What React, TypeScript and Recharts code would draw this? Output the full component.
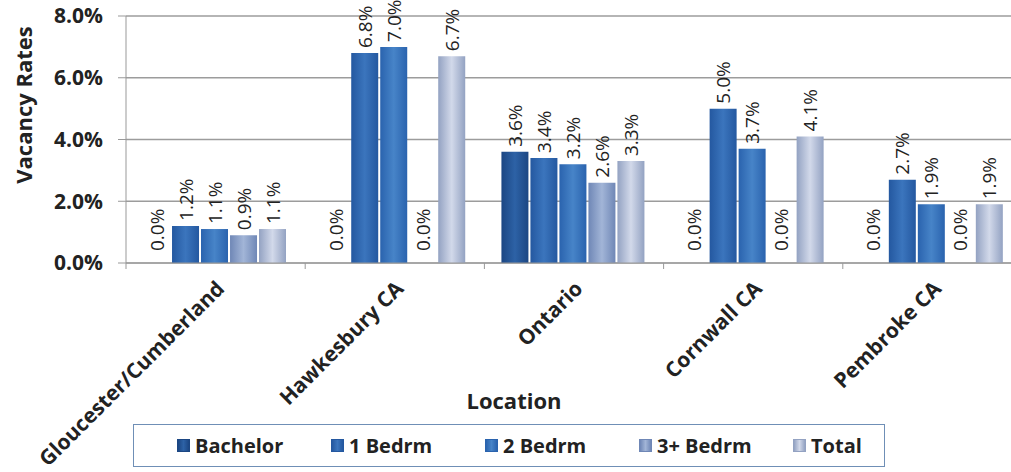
import { BarChart, Bar, XAxis, YAxis, CartesianGrid, Legend, LabelList } from 'recharts'

const locations = ['Gloucester/Cumberland', 'Hawkesbury CA', 'Ontario', 'Cornwall CA', 'Pembroke CA']
const bachelor = [0.0, 0.0, 3.6, 0.0, 0.0]
const bedrm1 = [1.2, 6.8, 3.4, 5.0, 2.7]
const bedrm2 = [1.1, 7.0, 3.2, 3.7, 1.9]
const bedrm3 = [0.9, 0.0, 2.6, 0.0, 0.0]
const total = [1.1, 6.7, 3.3, 4.1, 1.9]
const yTicks = [0, 2, 4, 6, 8]

const series = [
  { key: 'bachelor', name: 'Bachelor', edge: '#1b4683', mid: '#2d62a6' },
  { key: 'bedrm1', name: '1 Bedrm', edge: '#2458a0', mid: '#3b75bd' },
  { key: 'bedrm2', name: '2 Bedrm', edge: '#2a63ae', mid: '#4784c8' },
  { key: 'bedrm3', name: '3+ Bedrm', edge: '#6f87b6', mid: '#a2b5d7' },
  { key: 'total', name: 'Total', edge: '#93a2c2', mid: '#d2d9ea' },
]

const data = locations.map((loc, i) => ({
  location: loc,
  bachelor: bachelor[i],
  bedrm1: bedrm1[i],
  bedrm2: bedrm2[i],
  bedrm3: bedrm3[i],
  total: total[i],
}))

const FONT = '"Open Sans", "DejaVu Sans", sans-serif'
const BAND = 179.2

function ValueLabel(props: any) {
  const { x, y, width, value } = props
  const v = Number(value)
  const cx = x + width / 2
  const cy = y - (v === 0 ? 12 : 5)
  return (
    <text
      x={cx}
      y={cy}
      transform={`rotate(-90, ${cx}, ${cy})`}
      textAnchor="start"
      dominantBaseline="central"
      fontFamily={FONT}
      fontSize={19}
      fill="#222"
    >
      {v.toFixed(1)}%
    </text>
  )
}

function LocationTick(props: any) {
  const { x, y, payload, index } = props
  const left = x - BAND / 2
  const tx = x + 10
  const ty = y + 19
  return (
    <g>
      <line x1={left} y1={y - 8} x2={left} y2={y - 2} stroke="#999" />
      {index === locations.length - 1 && <line x1={x + BAND / 2} y1={y - 8} x2={x + BAND / 2} y2={y - 2} stroke="#999" />}
      <text
        x={tx}
        y={ty}
        transform={`rotate(-45, ${tx}, ${ty})`}
        textAnchor="end"
        fontFamily={FONT}
        fontWeight="bold"
        fontSize={21}
        fill="#222"
      >
        {payload.value}
      </text>
    </g>
  )
}

function LegendBox() {
  return (
    <div
      style={{
        boxSizing: 'border-box',
        width: 752,
        height: 43,
        border: '1px solid #6f8fb6',
        background: '#fff',
        display: 'flex',
        alignItems: 'center',
        paddingLeft: 43,
        fontFamily: FONT,
        fontWeight: 'bold',
        fontSize: 20,
        color: '#222',
      }}
    >
      {series.map((s) => (
        <div key={s.key} style={{ display: 'flex', alignItems: 'center', width: s.key === 'total' ? 80 : 154 }}>
          <div
            style={{
              width: 13,
              height: 13,
              marginRight: 5,
              boxSizing: 'border-box',
              border: `1px solid ${s.edge}`,
              background: `linear-gradient(90deg, ${s.edge}, ${s.mid}, ${s.edge})`,
            }}
          />
          <span>{s.name}</span>
        </div>
      ))}
    </div>
  )
}

export default function App() {
  return (
    <div style={{ position: 'fixed', left: 0, top: 0, width: 1011, height: 472, overflow: 'hidden', background: '#fff' }}>
      <BarChart
        width={1024}
        height={472}
        data={data}
        margin={{ top: 16, right: 2, left: 0, bottom: 0 }}
        barCategoryGap="9.5%"
        barGap={2}
      >
        <defs>
          {series.map((s) => (
            <linearGradient key={s.key} id={`grad-${s.key}`} x1="0" y1="0" x2="1" y2="0">
              <stop offset="0%" stopColor={s.edge} />
              <stop offset="50%" stopColor={s.mid} />
              <stop offset="100%" stopColor={s.edge} />
            </linearGradient>
          ))}
        </defs>
        <CartesianGrid vertical={false} stroke="#9c9c9c" strokeWidth={1.5} />
        <XAxis
          dataKey="location"
          interval={0}
          height={209}
          stroke="#999"
          tickLine={false}
          tick={<LocationTick />}
          label={{
            content: () => (
              <text x={514} y={409} textAnchor="middle" fontFamily={FONT} fontWeight="bold" fontSize={22} fill="#222">
                Location
              </text>
            ),
          }}
        />
        <YAxis
          width={126}
          domain={[0, 8]}
          ticks={yTicks}
          stroke="#999"
          tickSize={8}
          tickMargin={15}
          tickFormatter={(v: number) => `${v.toFixed(1)}%`}
          tick={{ fontFamily: FONT, fontWeight: 'bold', fontSize: 21, fill: '#222' }}
          label={{
            content: () => (
              <text
                x={23}
                y={105}
                transform="rotate(-90, 23, 105)"
                textAnchor="middle"
                dominantBaseline="central"
                fontFamily={FONT}
                fontWeight="bold"
                fontSize={22}
                fill="#222"
              >
                Vacancy Rates
              </text>
            ),
          }}
        />
        <Legend
          layout="horizontal"
          verticalAlign="middle"
          align="center"
          content={<LegendBox />}
          wrapperStyle={{ left: 133, top: 424, width: 752, height: 43 }}
        />
        {series.map((s) => (
          <Bar
            key={s.key}
            dataKey={s.key}
            name={s.name}
            fill={`url(#grad-${s.key})`}
            minPointSize={0.01}
            isAnimationActive={false}
          >
            <LabelList dataKey={s.key} content={<ValueLabel />} />
          </Bar>
        ))}
      </BarChart>
    </div>
  )
}
